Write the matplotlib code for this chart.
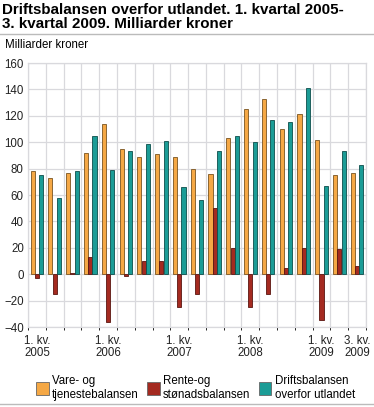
import numpy as np
import matplotlib
matplotlib.use("Agg")
import matplotlib.pyplot as plt
from matplotlib.lines import Line2D
from matplotlib.patches import Patch

plt.rcParams['font.family'] = ['Liberation Sans', 'DejaVu Sans']

# quarters 2005Q1 .. 2009Q3
quarters = ["2005Q1", "2005Q2", "2005Q3", "2005Q4",
            "2006Q1", "2006Q2", "2006Q3", "2006Q4",
            "2007Q1", "2007Q2", "2007Q3", "2007Q4",
            "2008Q1", "2008Q2", "2008Q3", "2008Q4",
            "2009Q1", "2009Q2", "2009Q3"]
vare = [78, 73, 77, 92, 114, 95, 89, 91, 89, 80, 76, 103, 125, 133, 110, 121, 102, 75, 77]
rente = [-3, -15, 1, 13, -36, -1, 10, 10, -25, -15, 50, 20, -25, -15, 5, 20, -35, 19, 6]
drift = [75, 58, 78, 105, 79, 93, 99, 101, 66, 56, 93, 105, 100, 117, 115, 141, 67, 93, 83]
tick_pos = [0, 4, 8, 12, 16, 18]
tick_labels = ["1. kv.\n2005", "1. kv.\n2006", "1. kv.\n2007", "1. kv.\n2008",
               "1. kv.\n2009", "3. kv.\n2009"]
series_names = ["Vare- og\ntjenestebalansen", "Rente-og\nstønadsbalansen",
                "Driftsbalansen\noverfor utlandet"]

colors = ["#F5A845", "#A42A20", "#1B9C96"]
edges = ["#7a5420", "#5a1510", "#0d4e4b"]

fig = plt.figure(figsize=(3.74, 4.07), dpi=100)
ax = fig.add_axes([28/374, 80/407, 338/374, 264/407])

x = np.arange(len(quarters))
w = 0.23
for vals, off, c, e in zip([vare, rente, drift], [-0.24, 0, 0.24], colors, edges):
    ax.bar(x + off, vals, w, color=c, edgecolor=e, linewidth=0.6, zorder=3)

ax.set_xlim(-0.5, len(quarters) - 0.5)
ax.set_ylim(-40, 160)
ax.set_yticks(range(-40, 161, 20))
ax.set_xticks(np.arange(len(quarters) + 1) - 0.5, minor=True)
ax.set_xticks(tick_pos)
ax.set_xticklabels(tick_labels, fontsize=8.3, linespacing=1.0)
ax.tick_params(axis='both', length=0, labelsize=8.3, colors='#222222')
ax.tick_params(axis='x', pad=6)
ax.tick_params(axis='y', pad=3)
ax.grid(True, axis='y', color='#d9d9dd', linewidth=0.9, zorder=0)
ax.grid(True, axis='x', which='minor', color='#d9d9dd', linewidth=0.9, zorder=0)
for s in ax.spines.values():
    s.set_color('#d9d9dd')
    s.set_linewidth(0.9)

fig.text(2/374, 1 - 3/407, "Driftsbalansen overfor utlandet. 1. kvartal 2005-\n3. kvartal 2009. Milliarder kroner",
         fontsize=10.9, fontweight='bold', va='top', ha='left', linespacing=1.0)
fig.add_artist(Line2D([0, 1], [1 - 34/407, 1 - 34/407], color='#bbbbbb', linewidth=1.0))
fig.text(5/374, 1 - 45/407, "Milliarder kroner", fontsize=8.3, va='center', ha='left')
fig.add_artist(Line2D([0, 1], [1 - 404/407, 1 - 404/407], color='#bbbbbb', linewidth=1.0))

handles = [Patch(facecolor=c, edgecolor='#666666', linewidth=0.6) for c in colors]
fig.legend(handles, series_names, loc='lower left', bbox_to_anchor=(36/374, 6/407),
           borderaxespad=0, borderpad=0, ncol=3, frameon=False, fontsize=8.3,
           handlelength=1.1, handleheight=1.4, handletextpad=0.3,
           columnspacing=0.7, labelspacing=0.2)

fig.savefig("out.png", dpi=100)
